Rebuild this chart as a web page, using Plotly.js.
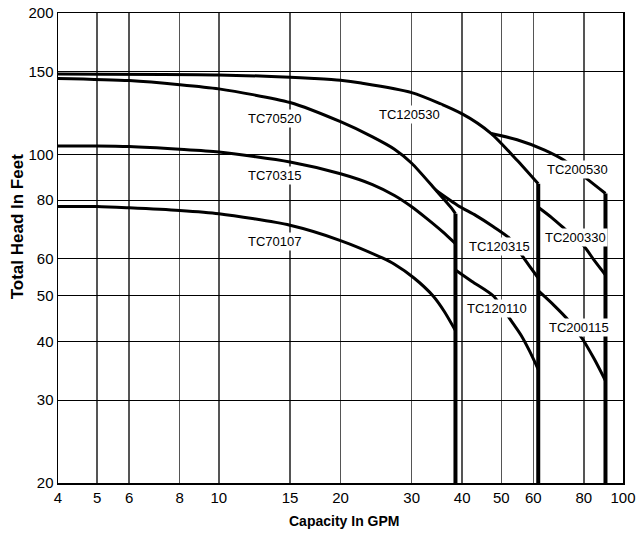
<!DOCTYPE html>
<html>
<head>
<meta charset="utf-8">
<script src="https://cdn.plot.ly/plotly-3.0.1.min.js"></script>
<style>
  html, body { margin: 0; padding: 0; background: #fff; }
  #chart { width: 636px; height: 533px; }
</style>
</head>
<body>
<div id="chart"></div>
<script>
// ---- Data (Capacity in GPM vs Total Head in Feet) ----
const tc120530_x = [4, 10, 15, 17.2, 20, 22.5, 30, 40, 47.2, 54.7, 61.7];
const tc120530_y = [148.4, 147.7, 146, 145.1, 143.8, 141.9, 135.4, 122, 110.8, 97.2, 86.6];

const tc70520_x = [4, 6, 8, 10, 15, 20, 24, 27.2, 30, 34.5, 37.7, 38.5];
const tc70520_y = [145.1, 143.6, 140.8, 137.9, 129, 117.4, 109, 102.6, 95.8, 83.8, 76.8, 74.8];

const tc70315_x = [4, 5, 6, 8, 10, 15, 20, 24, 27.2, 30, 32.6, 35.7, 38.5];
const tc70315_y = [104.3, 104.3, 104, 102.6, 101.2, 96.4, 91, 86.3, 81.8, 77.4, 73.2, 68.6, 64.6];

const tc70107_x = [4, 5, 6, 8, 10, 15, 20, 25.3, 27.2, 30.4, 33.9, 36.1, 38.5];
const tc70107_y = [77.5, 77.5, 77, 76, 74.8, 70.7, 65.6, 60.3, 58.4, 54.6, 50, 46.4, 42.2];

const tc200530_x = [47.2, 54.7, 64, 71.5, 81.6, 90.5];
const tc200530_y = [110.8, 107.5, 102.2, 97.2, 88.6, 82.6];

const tc120315_x = [34.5, 39.1, 43.2, 47.8, 52.3, 56, 58.7, 61.7];
const tc120315_y = [83.8, 77.8, 74.2, 70.2, 66.4, 61.3, 57.9, 54.6];

const tc200330_x = [61.7, 66.6, 71.8, 80.1, 84.9, 90.5];
const tc200330_y = [77.2, 73.4, 69.4, 63.8, 59.5, 55.4];

const tc120110_x = [38.5, 42.3, 47.8, 52.3, 56, 58.7, 61.7];
const tc120110_y = [56.8, 53.7, 50, 44.9, 41.2, 38.2, 34.9];

const tc200115_x = [61.7, 67.4, 73.4, 79.4, 84.9, 90.5];
const tc200115_y = [51.3, 47.8, 44.3, 40.5, 36.7, 33];

// Maximum-capacity cut-off lines (vertical drops to axis minimum)
const cutoffX = [38.5, 61.7, 90.5];
const cutoffTopY = [74.8, 86.6, 82.6];
const axisMinY = 20;

// Curve labels
const labelText = ["TC70520", "TC70315", "TC70107", "TC120530", "TC200530", "TC200330", "TC120315", "TC120110", "TC200115"];
const labelX    = [13.75, 13.75, 13.75, 29.6, 77.1, 76.3, 49.4, 48.9, 77.9];
const labelY    = [119.3, 90.1, 65.2, 121.5, 92.9, 66.7, 63.6, 47, 42.8];

// Axis ticks
const xTicks = [4, 5, 6, 8, 10, 15, 20, 30, 40, 50, 60, 80, 100];
const yTicks = [20, 30, 40, 50, 60, 80, 100, 150, 200];

// Axis titles
const xTitle = 'Capacity In GPM';
const yTitle = 'Total Head In Feet';

// ---- Build traces ----
const curves = [
  [tc120530_x, tc120530_y],
  [tc70520_x, tc70520_y],
  [tc70315_x, tc70315_y],
  [tc70107_x, tc70107_y],
  [tc200530_x, tc200530_y],
  [tc120315_x, tc120315_y],
  [tc200330_x, tc200330_y],
  [tc120110_x, tc120110_y],
  [tc200115_x, tc200115_y]
];

const traces = curves.map(c => ({
  x: c[0], y: c[1], type: 'scatter', mode: 'lines',
  line: { color: '#000', width: 3, shape: 'spline', smoothing: 0.7 },
  hoverinfo: 'skip', showlegend: false
}));

cutoffX.forEach((cx, i) => {
  traces.push({
    x: [cx, cx], y: [cutoffTopY[i], axisMinY], type: 'scatter', mode: 'lines',
    line: { color: '#000', width: 4 }, hoverinfo: 'skip', showlegend: false
  });
});

const annotations = labelText.map((t, i) => ({
  x: Math.log10(labelX[i]), y: Math.log10(labelY[i]),
  xref: 'x', yref: 'y', text: t, showarrow: false,
  font: { family: 'Liberation Sans, Arial, sans-serif', size: 13, color: '#000' },
  bgcolor: '#fff', borderpad: 1
}));

annotations.push({
  xref: 'paper', yref: 'paper', x: 0.506, y: -0.080,
  text: '<b>' + xTitle + '</b>', showarrow: false,
  xanchor: 'center', yanchor: 'middle',
  font: { family: 'Liberation Sans, Arial, sans-serif', size: 14, color: '#000' }
});
annotations.push({
  xref: 'paper', yref: 'paper', x: -0.0717, y: 0.545,
  text: '<b>' + yTitle + '</b>', showarrow: false, textangle: -90,
  xanchor: 'center', yanchor: 'middle',
  font: { family: 'Liberation Sans, Arial, sans-serif', size: 17, color: '#000' }
});

const layout = {
  width: 636, height: 533,
  margin: { l: 58, r: 13, t: 13, b: 50 },
  paper_bgcolor: '#fff', plot_bgcolor: '#fff',
  font: { family: 'Liberation Sans, Arial, sans-serif', color: '#000' },
  xaxis: {
    type: 'log', range: [Math.log10(4), Math.log10(100)],
    tickvals: xTicks, ticktext: xTicks.map(String),
    tickfont: { size: 15, color: '#000' },
    ticks: '', showgrid: true, gridcolor: '#555', gridwidth: 1.6,
    showline: true, linecolor: '#000', linewidth: 1.5, mirror: true,
    zeroline: false
  },
  yaxis: {
    type: 'log', range: [Math.log10(20), Math.log10(200)],
    tickvals: yTicks, ticktext: yTicks.map(String),
    tickfont: { size: 15, color: '#000' },
    ticks: '', showgrid: true, gridcolor: '#000', gridwidth: 1,
    showline: true, linecolor: '#000', linewidth: 1.5, mirror: true,
    zeroline: false
  },
  annotations: annotations,
  showlegend: false
};

Plotly.newPlot('chart', traces, layout, { staticPlot: true, displayModeBar: false });
</script>
</body>
</html>
